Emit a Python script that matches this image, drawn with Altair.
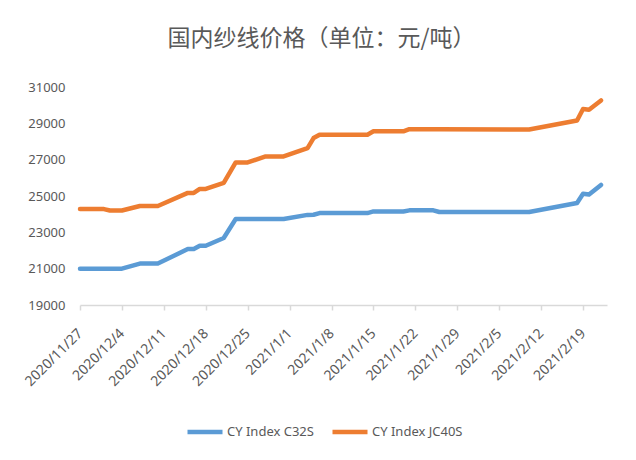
import altair as alt
import pandas as pd

title_text = "国内纱线价格（单位：元/吨）"
series_names = ["CY Index C32S", "CY Index JC40S"]
series_colors = ["#5B9BD5", "#ED7D31"]

dates = [
    "2020-11-27", "2020-12-01", "2020-12-02", "2020-12-04", "2020-12-07",
    "2020-12-10", "2020-12-15", "2020-12-16", "2020-12-17", "2020-12-18",
    "2020-12-21", "2020-12-23", "2020-12-25", "2020-12-28", "2020-12-31",
    "2021-01-04", "2021-01-05", "2021-01-06", "2021-01-14", "2021-01-15",
    "2021-01-20", "2021-01-21", "2021-01-25", "2021-01-26", "2021-02-10",
    "2021-02-18", "2021-02-19", "2021-02-20", "2021-02-22",
]
c32s = [
    21000, 21000, 21000, 21000, 21280,
    21280, 22080, 22080, 22260, 22260,
    22690, 23730, 23730, 23730, 23730,
    23960, 23970, 24060, 24060, 24150,
    24150, 24210, 24210, 24120, 24120,
    24615, 25120, 25080, 25610,
]
jc40s = [
    24280, 24280, 24200, 24200, 24450,
    24450, 25170, 25170, 25390, 25390,
    25720, 26850, 26850, 27180, 27180,
    27640, 28190, 28375, 28375, 28560,
    28560, 28680, 28680, 28680, 28660,
    29160, 29790, 29750, 30260,
]

x_tick_dates = [
    (2020, 11, 27), (2020, 12, 4), (2020, 12, 11), (2020, 12, 18), (2020, 12, 25),
    (2021, 1, 1), (2021, 1, 8), (2021, 1, 15), (2021, 1, 22), (2021, 1, 29),
    (2021, 2, 5), (2021, 2, 12), (2021, 2, 19),
]
x_domain = [(2020, 11, 27), (2021, 2, 23)]
y_ticks = [19000, 21000, 23000, 25000, 27000, 29000, 31000]

rows = []
for d, a, b in zip(dates, c32s, jc40s):
    rows.append({"date": d, "series": series_names[0], "price": a})
    rows.append({"date": d, "series": series_names[1], "price": b})
df = pd.DataFrame(rows)


def dt(t):
    return alt.DateTime(year=t[0], month=t[1], date=t[2], utc=True)


label_color = "#595959"

chart = alt.Chart(df).mark_line(
    strokeWidth=4.5, strokeCap="round", strokeJoin="round"
).encode(
    x=alt.X(
        "date:T",
        scale=alt.Scale(type="utc", domain=[dt(x_domain[0]), dt(x_domain[1])], nice=False),
        axis=alt.Axis(
            title=None,
            values=[dt(t) for t in x_tick_dates],
            labelExpr="utcFormat(datum.value, '%Y/%-m/%-d')",
            labelAngle=-45,
            labelAlign="right",
            labelBaseline="middle",
            labelFontSize=14,
            labelColor=label_color,
            labelPadding=21,
            domainColor="#d9d9d9",
            domainWidth=1.5,
            tickColor="#d9d9d9",
            tickWidth=1.5,
            tickSize=5,
            grid=False,
            labelOverlap=False,
            labelFlush=False,
        ),
    ),
    y=alt.Y(
        "price:Q",
        scale=alt.Scale(domain=[19000, 31000], nice=False, zero=False),
        axis=alt.Axis(
            title=None,
            values=y_ticks,
            format="d",
            labelFontSize=13,
            labelColor=label_color,
            labelPadding=15,
            domain=False,
            ticks=False,
            grid=False,
        ),
    ),
    color=alt.Color(
        "series:N",
        scale=alt.Scale(domain=series_names, range=series_colors),
        legend=alt.Legend(
            title=None,
            orient="none",
            direction="horizontal",
            legendX=105,
            legendY=325,
            symbolType="stroke",
            symbolSize=1225,
            symbolStrokeWidth=4.5,
            labelFontSize=13,
            labelColor=label_color,
            labelOffset=2,
            columnPadding=9,
            padding=0,
        ),
    ),
).properties(
    width=527,
    height=218,
    title=alt.TitleParams(
        text=title_text,
        font="Noto Sans CJK SC",
        fontSize=23,
        fontWeight="normal",
        color=label_color,
        anchor="middle",
        frame="group",
        dx=-22,
        offset=30,
    ),
    autosize=alt.AutoSizeParams(type="none"),
    padding={"left": 72, "top": 79, "right": 20, "bottom": 140},
).configure(
    font="Noto Sans",
).configure_view(
    stroke=None,
)

chart.save("out.html", embed_options={"renderer": "svg", "actions": False})
